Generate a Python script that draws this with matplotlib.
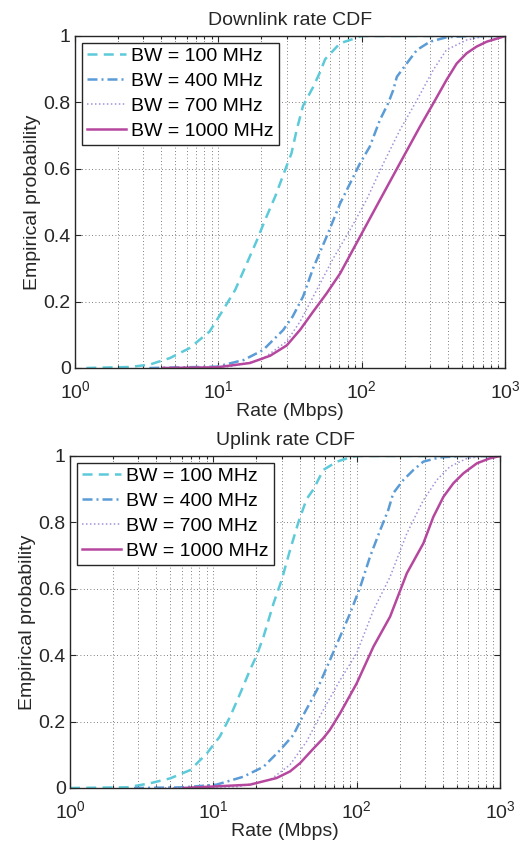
import math
import matplotlib
matplotlib.use("Agg")
import matplotlib.pyplot as plt
from matplotlib.ticker import LogLocator, FixedLocator, FuncFormatter

plt.rcParams['font.family'] = ['Liberation Sans', 'DejaVu Sans']
plt.rcParams['mathtext.fontset'] = 'custom'
plt.rcParams['mathtext.rm'] = 'Liberation Sans'
plt.rcParams['mathtext.it'] = 'Liberation Sans'

# ---------------- data (rate in Mbps, empirical probability) ----------------
labels = ["BW = 100 MHz", "BW = 400 MHz", "BW = 700 MHz", "BW = 1000 MHz"]

# Downlink
dl_100_x = [1.2, 2.4, 3.3, 4.6, 6.3, 8.7, 10.8, 13.1, 15.8, 18.6, 21.2, 24.9, 29.2, 32.4, 35.2, 39.0, 45.7, 51.1, 55.6, 70.6, 83.0, 100, 1000]
dl_100_y = [0.0, 0.003, 0.01, 0.03, 0.06, 0.11, 0.175, 0.235, 0.315, 0.385, 0.446, 0.516, 0.596, 0.647, 0.717, 0.79, 0.845, 0.89, 0.93, 0.978, 0.988, 1.0, 1.0]

dl_400_x = [3.3, 9.7, 15.0, 20.5, 28.3, 33.0, 39.0, 45.8, 57.0, 70.8, 83.0, 97.5, 114, 134, 153, 166, 176, 206, 243, 300, 390, 540, 1000]
dl_400_y = [0.0, 0.004, 0.024, 0.054, 0.114, 0.155, 0.215, 0.30, 0.396, 0.496, 0.556, 0.617, 0.667, 0.747, 0.797, 0.837, 0.877, 0.917, 0.958, 0.983, 0.996, 1.0, 1.0]

dl_700_x = [5.0, 12.0, 20.0, 30.0, 37.2, 48.6, 63.3, 83.0, 108, 142, 185, 243, 316, 390, 540, 740, 1000]
dl_700_y = [0.0, 0.004, 0.025, 0.08, 0.14, 0.235, 0.33, 0.416, 0.506, 0.617, 0.717, 0.807, 0.898, 0.958, 0.988, 1.0, 1.0]

dl_1000_x = [4.1, 9.7, 16.6, 23.0, 30.0, 37.2, 45.9, 57.0, 70.8, 97.5, 134, 185, 255, 316, 390, 460, 540, 633, 747, 940, 1000]
dl_1000_y = [0.0, 0.002, 0.015, 0.037, 0.068, 0.115, 0.17, 0.225, 0.285, 0.396, 0.506, 0.617, 0.727, 0.797, 0.867, 0.917, 0.948, 0.968, 0.983, 0.996, 1.0]

# Uplink
ul_100_x = [1.0, 2.5, 3.6, 5.0, 6.9, 9.0, 11.1, 13.1, 15.4, 18.0, 20.1, 22.4, 26.3, 30.0, 34.3, 39.2, 44.7, 50.0, 58.5, 72.8, 90.0, 100, 1000]
ul_100_y = [0.0, 0.002, 0.014, 0.029, 0.054, 0.104, 0.155, 0.215, 0.285, 0.355, 0.40, 0.456, 0.556, 0.627, 0.717, 0.80, 0.87, 0.90, 0.958, 0.983, 0.996, 1.0, 1.0]

ul_400_x = [2.8, 6.2, 10.5, 16.2, 22.4, 29.2, 36.2, 42.5, 52.8, 65.2, 76.6, 90.0, 106, 124, 146, 166, 180, 212, 249, 292, 380, 560, 1000]
ul_400_y = [0.0, 0.002, 0.01, 0.034, 0.064, 0.114, 0.16, 0.22, 0.295, 0.386, 0.456, 0.526, 0.606, 0.697, 0.777, 0.837, 0.888, 0.928, 0.958, 0.983, 0.996, 1.0, 1.0]

ul_700_x = [4.3, 15.0, 25.0, 34.3, 44.7, 58.5, 76.6, 100, 131, 171, 224, 292, 363, 447, 590, 800, 1000]
ul_700_y = [0.0, 0.004, 0.025, 0.07, 0.14, 0.235, 0.325, 0.406, 0.536, 0.636, 0.767, 0.867, 0.928, 0.968, 0.993, 1.0, 1.0]

ul_1000_x = [6.2, 18.0, 27.6, 34.3, 40.3, 49.0, 58.5, 65.0, 76.6, 100, 131, 171, 224, 292, 343, 403, 473, 556, 690, 850, 1000]
ul_1000_y = [0.0, 0.01, 0.03, 0.05, 0.075, 0.115, 0.15, 0.175, 0.225, 0.315, 0.426, 0.516, 0.647, 0.737, 0.817, 0.877, 0.918, 0.948, 0.978, 0.993, 1.0]

titles = ["Downlink rate CDF", "Uplink rate CDF"]
x_label = "Rate (Mbps)"
y_label = "Empirical probability"
x_ticks = [1, 10, 100, 1000]
y_ticks = [0, 0.2, 0.4, 0.6, 0.8, 1.0]
y_ticklabels = ["0", "0.2", "0.4", "0.6", "0.8", "1"]

panels = [
    [(dl_100_x, dl_100_y), (dl_400_x, dl_400_y), (dl_700_x, dl_700_y), (dl_1000_x, dl_1000_y)],
    [(ul_100_x, ul_100_y), (ul_400_x, ul_400_y), (ul_700_x, ul_700_y), (ul_1000_x, ul_1000_y)],
]

# ---------------- styling ----------------
colors = ["#5ccad9", "#5b9bd6", "#a391d9", "#b6479e"]
styles = [dict(linestyle=(0, (4, 2.5)), linewidth=1.8),
          dict(linestyle=(0, (4, 1.6, 0.8, 1.6)), linewidth=1.8),
          dict(linestyle=(0, (1, 1.6)), linewidth=1.1),
          dict(linestyle="-", linewidth=1.8)]

fig = plt.figure(figsize=(5.23, 8.44), dpi=100)
positions = [[75/523, (844-368)/844, 430/523, 332/844],
             [70/523, (844-788)/844, 430/523, 332/844]]

fs = 14
txt = "#262626"
for pos, title, series in zip(positions, titles, panels):
    ax = fig.add_axes(pos)
    for (xs, ys), c, st, lab in zip(series, colors, styles, labels):
        ax.plot(xs, ys, color=c, label=lab, **st)
    ax.set_xscale("log")
    ax.set_xlim(1, 1000)
    ax.set_ylim(0, 1)
    ax.xaxis.set_major_locator(FixedLocator(x_ticks))
    ax.xaxis.set_major_formatter(FuncFormatter(lambda v, p: r"$\mathregular{10^{%d}}$" % round(math.log10(v))))
    ax.xaxis.set_minor_locator(LogLocator(base=10, subs=range(2, 10)))
    ax.set_yticks(y_ticks)
    ax.set_yticklabels(y_ticklabels)
    ax.tick_params(which="both", direction="in", top=True, right=True, labelsize=fs, colors=txt, width=0.8)
    ax.tick_params(which="major", length=4)
    ax.tick_params(which="minor", length=2)
    ax.tick_params(axis="x", which="major", pad=8.5)
    ax.tick_params(axis="y", which="major", pad=3)
    ax.grid(True, which="major", linestyle=(0, (1, 3)), color="#555555", linewidth=0.6)
    ax.grid(True, which="minor", axis="x", linestyle=(0, (1, 3)), color="#555555", linewidth=0.6)
    for s in ax.spines.values():
        s.set_linewidth(1.0)
        s.set_color(txt)
    ax.set_title(title, fontsize=fs, pad=8, color=txt)
    ax.set_xlabel(x_label, fontsize=fs, labelpad=1, color=txt)
    ax.set_ylabel(y_label, fontsize=fs, labelpad=2, color=txt)
    leg = ax.legend(loc="upper left", fontsize=fs, frameon=True, fancybox=False,
                    edgecolor=txt, framealpha=1, handlelength=2.0,
                    borderpad=0.25, labelspacing=0.38, handletextpad=0.3,
                    borderaxespad=0.35)
    leg.get_frame().set_linewidth(1.0)

fig.savefig("out.png", dpi=100)
